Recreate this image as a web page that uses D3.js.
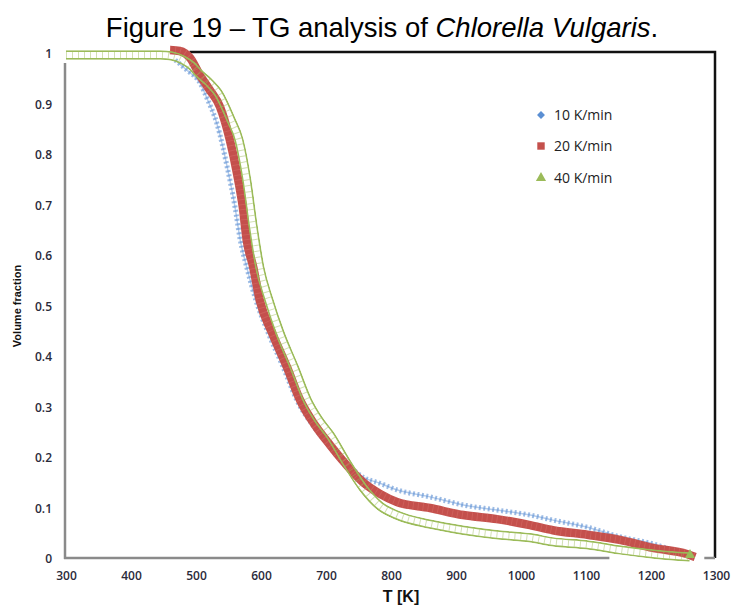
<!DOCTYPE html>
<html>
<head>
<meta charset="utf-8">
<script src="https://cdn.jsdelivr.net/npm/d3@7"></script>
<style>
  html, body { margin: 0; padding: 0; background: #fff; }
  svg { display: block; }
</style>
</head>
<body>
<svg id="chart" width="733" height="605"></svg>
<script>
// ---- data ----
const xTicks = [300, 400, 500, 600, 700, 800, 900, 1000, 1100, 1200, 1300];
const yTicks = [0, 0.1, 0.2, 0.3, 0.4, 0.5, 0.6, 0.7, 0.8, 0.9, 1];

const seriesNames = ["10 K/min", "20 K/min", "40 K/min"];

const tempBlue = [468, 486, 506, 518, 532, 548, 560, 568, 578, 592, 611, 634, 655, 683, 711, 734, 757, 783, 809, 860, 911, 963, 1014, 1049, 1102, 1152, 1203, 1245];
const fracBlue = [0.988, 0.968, 0.943, 0.909, 0.863, 0.776, 0.697, 0.632, 0.578, 0.513, 0.448, 0.380, 0.315, 0.259, 0.216, 0.186, 0.162, 0.150, 0.137, 0.123, 0.107, 0.097, 0.087, 0.077, 0.063, 0.044, 0.030, 0.012];

const tempRed = [460, 475, 491, 506, 521, 537, 552, 563, 572, 578, 588, 598, 617, 640, 660, 683, 706, 729, 757, 783, 809, 860, 911, 963, 1014, 1049, 1102, 1152, 1203, 1255, 1268];
const fracRed = [1.008, 1.006, 0.992, 0.958, 0.929, 0.895, 0.830, 0.764, 0.697, 0.632, 0.578, 0.513, 0.448, 0.380, 0.315, 0.265, 0.226, 0.190, 0.152, 0.129, 0.113, 0.101, 0.087, 0.079, 0.067, 0.057, 0.048, 0.038, 0.022, 0.010, 0.004];

const tempGreen = [300, 445, 463, 480, 494, 504, 519, 534, 554, 566, 578, 588, 598, 612, 629, 651, 671, 689, 706, 732, 757, 783, 809, 860, 911, 963, 1014, 1049, 1102, 1152, 1203, 1260];
const fracGreen = [0.998, 0.998, 0.996, 0.988, 0.976, 0.962, 0.945, 0.923, 0.869, 0.830, 0.750, 0.657, 0.578, 0.513, 0.448, 0.380, 0.315, 0.275, 0.246, 0.190, 0.141, 0.105, 0.087, 0.069, 0.057, 0.048, 0.042, 0.034, 0.028, 0.018, 0.010, 0.004];

// ---- chart ----
const svg = d3.select("#chart");
const x = d3.scaleLinear().domain([300, 1300]).range([66, 716]);
const y = d3.scaleLinear().domain([0, 1]).range([559, 54]);

const colBlue = "#5b8fd3", colRed = "#c4504c", colGreen = "#9bbb59";
const tickFont = "'Open Sans', 'DejaVu Sans', sans-serif";

// title
const title = svg.append("text")
  .attr("x", 382).attr("y", 37)
  .attr("text-anchor", "middle")
  .attr("font-family", "'Liberation Sans', Arial, sans-serif")
  .attr("font-size", 27.5)
  .attr("fill", "#000");
title.append("tspan").text("Figure 19 \u2013 TG analysis of ");
title.append("tspan").attr("font-style", "italic").text("Chlorella Vulgaris");
title.append("tspan").text(".");

// frame (top & right, black)
svg.append("path")
  .attr("d", `M${x(490)},52 H715 V558`)
  .attr("fill", "none").attr("stroke", "#111").attr("stroke-width", 2.5);

// axes lines (grey)
svg.append("line").attr("x1", 65).attr("x2", 65).attr("y1", 63).attr("y2", 559)
  .attr("stroke", "#8a8a8a").attr("stroke-width", 2.5);
svg.append("line").attr("x1", 64).attr("x2", x(1136)).attr("y1", 558).attr("y2", 558)
  .attr("stroke", "#8a8a8a").attr("stroke-width", 2.5);
svg.append("line").attr("x1", x(1282)).attr("x2", 715).attr("y1", 558).attr("y2", 558)
  .attr("stroke", "#8a8a8a").attr("stroke-width", 2.5);

// y axis
const yAxis = svg.append("g").attr("transform", "translate(66,0)")
  .call(d3.axisLeft(y).tickValues(yTicks).tickSize(0).tickPadding(14)
    .tickFormat(d => d === 0 ? "0" : d === 1 ? "1" : d3.format(".1f")(d)));
yAxis.select(".domain").remove();
yAxis.selectAll("text").attr("font-family", tickFont).attr("font-size", 12)
  .attr("font-weight", 600).attr("fill", "#2a2a3a");

// x axis
const xAxis = svg.append("g").attr("transform", "translate(0,559)")
  .call(d3.axisBottom(x).tickValues(xTicks).tickSize(0).tickPadding(12).tickFormat(d3.format("d")));
xAxis.select(".domain").remove();
xAxis.selectAll("text").attr("font-family", tickFont).attr("font-size", 12)
  .attr("font-weight", 600).attr("fill", "#2a2a3a");

// axis titles
svg.append("text")
  .attr("transform", "translate(21,306) rotate(-90)")
  .attr("text-anchor", "middle")
  .attr("font-family", "'Liberation Sans', Arial, sans-serif")
  .attr("font-size", 11).attr("font-weight", "bold").attr("fill", "#111")
  .text("Volume fraction");
svg.append("text")
  .attr("x", 401).attr("y", 602)
  .attr("text-anchor", "middle")
  .attr("font-family", "'Liberation Sans', Arial, sans-serif")
  .attr("font-size", 16).attr("font-weight", "bold").attr("fill", "#111")
  .text("T [K]");

// series
const line = d3.line().x(d => x(d[0])).y(d => y(d[1])).curve(d3.curveMonotoneX);
const blueData = d3.zip(tempBlue, fracBlue);
const redData = d3.zip(tempRed, fracRed);
const greenData = d3.zip(tempGreen, fracGreen);

// blue: dotted band
svg.append("path").attr("d", line(blueData))
  .attr("fill", "none").attr("stroke", colBlue).attr("stroke-width", 5)
  .attr("stroke-dasharray", "2,2.5").attr("opacity", 0.6);
svg.append("path").attr("d", line(blueData))
  .attr("fill", "none").attr("stroke", colBlue).attr("stroke-width", 1.5).attr("opacity", 0.45);

// red: thick band
svg.append("path").attr("d", line(redData))
  .attr("fill", "none").attr("stroke", colRed).attr("stroke-width", 8.5)
  .attr("stroke-linecap", "butt");
svg.append("path").attr("d", line(redData))
  .attr("fill", "none").attr("stroke", "#e07a76").attr("stroke-width", 8.5)
  .attr("stroke-dasharray", "1,4").attr("opacity", 0.35);

// green: hollow band (two edges) via mask
const defs = svg.append("defs");
const mask = defs.append("mask").attr("id", "greenMask").attr("maskUnits", "userSpaceOnUse")
  .attr("x", 0).attr("y", 0).attr("width", 733).attr("height", 605);
mask.append("path").attr("d", line(greenData))
  .attr("fill", "none").attr("stroke", "#fff").attr("stroke-width", 9.5);
mask.append("path").attr("d", line(greenData))
  .attr("fill", "none").attr("stroke", "#000").attr("stroke-width", 6);
svg.append("path").attr("d", line(greenData))
  .attr("fill", "none").attr("stroke", colGreen).attr("stroke-width", 9.5)
  .attr("mask", "url(#greenMask)");
svg.append("path").attr("d", line(greenData))
  .attr("fill", "none").attr("stroke", colGreen).attr("stroke-width", 6)
  .attr("stroke-dasharray", "1,5").attr("opacity", 0.45);

// end markers
svg.append("path").attr("d", d3.symbol(d3.symbolTriangle, 45)())
  .attr("transform", `translate(${x(tempGreen[tempGreen.length - 1])},${y(fracGreen[fracGreen.length - 1]) - 2})`)
  .attr("fill", colGreen);

// legend
const legendY = [115, 146, 178];
const legendColors = [colBlue, colRed, colGreen];
const legendSymbols = [d3.symbolDiamond2, d3.symbolSquare, d3.symbolTriangle];
const legendSizes = [40, 55, 45];
seriesNames.forEach((name, i) => {
  svg.append("path")
    .attr("d", d3.symbol(legendSymbols[i], legendSizes[i])())
    .attr("transform", `translate(541,${legendY[i]})`)
    .attr("fill", legendColors[i]);
  svg.append("text")
    .attr("x", 554).attr("y", legendY[i]).attr("dy", "0.36em")
    .attr("font-family", tickFont).attr("font-size", 14)
    .attr("fill", "#222")
    .text(name);
});
</script>
</body>
</html>
